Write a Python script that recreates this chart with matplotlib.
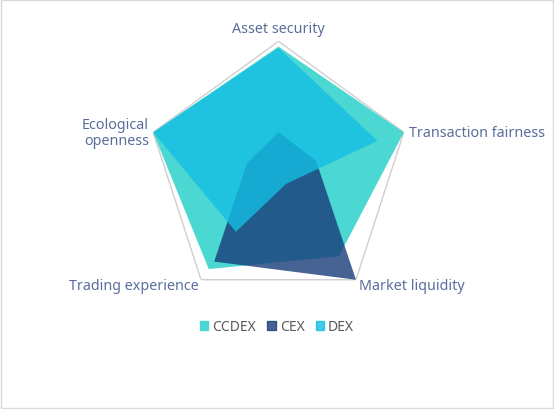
import numpy as np
import matplotlib
matplotlib.use('Agg')
import matplotlib.pyplot as plt
import matplotlib.patches as mpatches
from matplotlib.transforms import offset_copy

plt.rcParams['font.family'] = ['Noto Sans', 'DejaVu Sans']

# data (0-10 scale)
categories = ['Asset security', 'Transaction fairness', 'Market liquidity',
              'Trading experience', 'Ecological\nopenness']
series_names = ['CCDEX', 'CEX', 'DEX']
ccdex = [9.6, 10.0, 7.8, 9.0, 10.0]
cex = [3.1, 3.0, 10.0, 8.3, 2.5]
dex = [9.5, 7.9, 1.0, 5.5, 10.0]
max_value = 10

colors = ['#4BD8D3', '#183C79', '#14BEE3']
alphas = [1.0, 0.8, 0.8]

fig = plt.figure(figsize=(5.54, 4.10), dpi=100)
ax = fig.add_axes([0.2648, 0.2539, 0.4758, 0.6429], projection='polar')
ax.set_theta_zero_location('N')
ax.set_theta_direction(-1)

n = len(categories)
angles = np.arange(n) * 2 * np.pi / n
closed = np.append(angles, angles[0])

# outer pentagon only
outer = [max_value] * n
ax.plot(closed, outer + [outer[0]], color='#CFCFCF', lw=1.0, zorder=1)

for vals, c, a in zip([ccdex, cex, dex], colors, alphas):
    v = list(vals) + [vals[0]]
    ax.fill(closed, v, color=c, alpha=a, lw=0, zorder=2)

ax.set_ylim(0, max_value)
ax.set_xticks([])
ax.set_yticks([])
ax.grid(False)
ax.spines['polar'].set_visible(False)
ax.patch.set_alpha(0)

# category labels
label_color = '#5A6E9C'
places = [
    (0, 4, 'center', 'bottom'),
    (4, 0, 'left', 'center'),
    (2, -4, 'left', 'center'),
    (-2, -4, 'right', 'center'),
    (-3, 0, 'right', 'center'),
]
for ang, txt, (dx, dy, ha, va) in zip(angles, categories, places):
    tr = offset_copy(ax.transData, fig=fig, x=dx, y=dy, units='points')
    ax.text(ang, max_value, txt, transform=tr, ha=ha, va=va,
            fontsize=10.3, color=label_color, linespacing=1.05)

handles = [mpatches.Patch(color=c, alpha=a, label=s)
           for c, a, s in zip(colors, alphas, series_names)]
fig.legend(handles=handles, loc='center', bbox_to_anchor=(0.5, 0.2), ncol=3,
           frameon=False, handlelength=0.6, handleheight=0.6, handletextpad=0.3,
           columnspacing=0.8, fontsize=10, labelcolor='#595959')

# thin frame round the chart area
fig.patches.append(mpatches.Rectangle((0.002, 0.002), 0.996, 0.995, transform=fig.transFigure,
                                      fill=False, edgecolor='#D9D9D9', lw=1))

fig.savefig('out.png', dpi=100)
